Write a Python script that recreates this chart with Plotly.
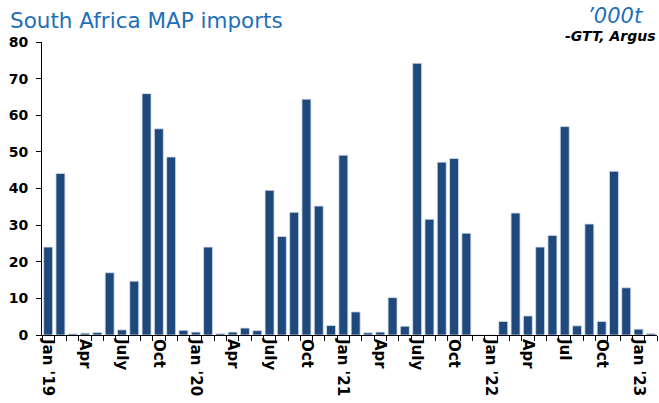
import plotly.graph_objects as go

# monthly MAP imports into South Africa, '000t (Jan 2019 - Feb 2023)
months = [
    "2019-01", "2019-02", "2019-03", "2019-04", "2019-05", "2019-06",
    "2019-07", "2019-08", "2019-09", "2019-10", "2019-11", "2019-12",
    "2020-01", "2020-02", "2020-03", "2020-04", "2020-05", "2020-06",
    "2020-07", "2020-08", "2020-09", "2020-10", "2020-11", "2020-12",
    "2021-01", "2021-02", "2021-03", "2021-04", "2021-05", "2021-06",
    "2021-07", "2021-08", "2021-09", "2021-10", "2021-11", "2021-12",
    "2022-01", "2022-02", "2022-03", "2022-04", "2022-05", "2022-06",
    "2022-07", "2022-08", "2022-09", "2022-10", "2022-11", "2022-12",
    "2023-01", "2023-02",
]
imports = [
    24.0, 44.1, 0.3, 0.5, 0.7, 17.0, 1.4, 14.7, 65.9, 56.3, 48.6, 1.3,
    0.8, 24.0, 0.4, 0.8, 1.9, 1.2, 39.5, 26.9, 33.5, 64.4, 35.2, 2.6,
    49.1, 6.3, 0.6, 0.8, 10.2, 2.4, 74.2, 31.6, 47.2, 48.2, 27.8, 0.0,
    0.0, 3.7, 33.3, 5.2, 24.0, 27.2, 56.9, 2.5, 30.3, 3.7, 44.7, 12.9,
    1.6, 0.4,
]
tick_labels = {
    "2019-01": "Jan '19", "2019-04": "Apr", "2019-07": "July", "2019-10": "Oct",
    "2020-01": "Jan '20", "2020-04": "Apr", "2020-07": "July", "2020-10": "Oct",
    "2021-01": "Jan '21", "2021-04": "Apr", "2021-07": "July", "2021-10": "Oct",
    "2022-01": "Jan '22", "2022-04": "Apr", "2022-07": "Jul", "2022-10": "Oct",
    "2023-01": "Jan '23",
}

BAR_BLUE = "#1F497D"
TITLE_BLUE = "#1E6EB8"
FONT = "DejaVu Sans"

fig = go.Figure(go.Bar(
    x=months,
    y=imports,
    marker=dict(color=BAR_BLUE, line=dict(color="#D5E0EE", width=0.8)),
))

fig.update_layout(
    width=659,
    height=403,
    margin=dict(l=42, r=2, t=42, b=68),
    paper_bgcolor="white",
    plot_bgcolor="white",
    bargap=0.27,
    showlegend=False,
    font=dict(family=FONT, color="black"),
)

fig.update_xaxes(
    type="category",
    tickmode="array",
    tickvals=months,
    ticktext=[tick_labels.get(m, "") for m in months],
    tickson="boundaries",
    ticks="outside",
    ticklen=5,
    tickcolor="black",
    tickangle=90,
    tickfont=dict(family=FONT, size=15, color="black", weight="bold"),
    showline=True,
    linecolor="black",
    linewidth=1,
    showgrid=False,
    automargin=False,
)

fig.update_yaxes(
    range=[0, 80],
    tickvals=[0, 10, 20, 30, 40, 50, 60, 70, 80],
    ticks="outside",
    ticklen=5,
    tickcolor="black",
    ticklabelstandoff=5,
    tickfont=dict(family=FONT, size=14, color="black", weight="bold"),
    showline=True,
    linecolor="black",
    linewidth=1,
    showgrid=False,
    zeroline=False,
    automargin=False,
)

fig.add_annotation(
    text="South Africa MAP imports", xref="paper", yref="paper",
    x=-0.0553, y=1.073, xanchor="left", yanchor="middle", showarrow=False,
    font=dict(family=FONT, size=21.5, color=TITLE_BLUE),
)
# unit and source share one right-aligned block, unit line sits a little further left
unit_and_source = (
    f"<span style='font-size:21px;color:{TITLE_BLUE}'><i>\u2019000t</i></span>"
    "\u00a0\u00a0\u00a0<br><b><i>-GTT, Argus</i></b>"
)
fig.add_annotation(
    text=unit_and_source, xref="paper", yref="paper",
    x=1.0, y=0.987, xanchor="right", yanchor="bottom", align="right",
    showarrow=False,
    font=dict(family=FONT, size=14, color="black"),
)

# drop the default 8px page margin so the figure fills the window exactly
fig.write_html(
    "out.html",
    config={"displayModeBar": False},
    post_script="document.body.style.margin = '0';",
)
